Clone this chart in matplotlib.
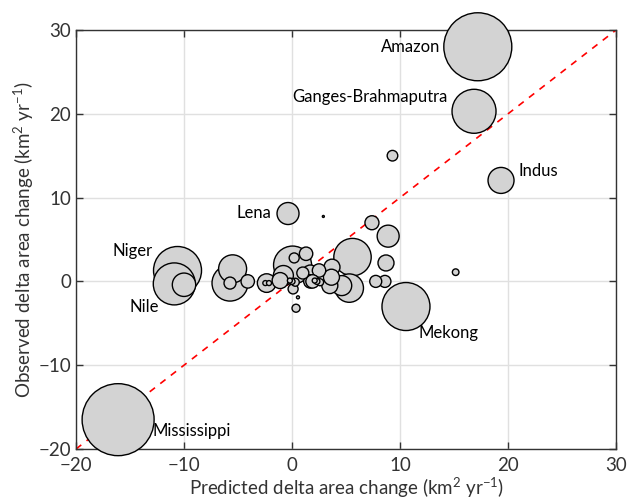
import numpy as np
import matplotlib
matplotlib.use("Agg")
from matplotlib import pyplot as plt

plt.rcParams['font.family'] = ['Lato', 'DejaVu Sans']
plt.rcParams['mathtext.fontset'] = 'custom'
plt.rcParams['mathtext.rm'] = 'Lato'
plt.rcParams['mathtext.it'] = 'Lato'

# predicted / observed delta area change (km2/yr) and bubble radius (pixels)
predicted = [17.2, 16.85, 19.35, -0.37, 2.9, 9.3, 7.4, 8.9, 8.7, 15.15,
             -10.6, -10.9, -10.0, -16.1, 10.55, 5.6, 5.3, 0.05,
             -5.74, -5.74, -5.5, -4.1, -2.35, -2.47, -2.13, -1.1,
             1.3, 0.2, -0.8, 2.5, 1.7, 1.0, 0.1, 0.37, 0.55, 1.7,
             0.0, -0.2, 0.3, 2.3, 2.1, 2.6, 3.65, 3.7, 3.5, 1.9,
             7.75, 8.6, 4.6]
observed = [28.0, 20.3, 12.05, 8.1, 7.75, 15.0, 7.0, 5.4, 2.2, 1.1,
            1.3, -0.3, -0.4, -16.5, -3.0, 2.9, -0.8, 1.95,
            -0.2, -0.2, 1.5, 0.0, -0.2, -0.2, -0.2, 0.1,
            3.3, 2.8, 0.7, 1.3, 1.0, 1.0, -0.9, -3.2, -1.9, 0.0,
            0.0, 0.1, -0.1, 0.0, 0.1, -0.1, 0.5, 1.7, -0.5, 0.0,
            0.0, 0.0, -0.5]
radius = [34, 22, 13, 11, 1, 5.3, 7, 11, 8, 3.3,
          24, 21, 11.7, 36, 24, 18.7, 14.2, 19,
          18, 6, 14, 6.7, 9.3, 2.5, 2.5, 8,
          6.7, 5, 10, 6.7, 8, 6, 5, 4, 1.5, 6.7,
          3, 2.5, 4, 3, 2.5, 3.5, 8, 8, 8, 6.7,
          6, 6, 10]

names = ['Amazon', 'Ganges-Brahmaputra', 'Indus', 'Lena', 'Niger', 'Nile',
         'Mekong', 'Mississippi']
name_x = [13.7, 0.0, 21.0, -1.95, -12.9, -15.0, 11.7, -12.9]
name_y = [28.0, 22.0, 13.2, 8.2, 3.6, -3.1, -6.2, -17.9]
name_ha = ['right', 'left', 'left', 'right', 'right', 'left', 'left', 'left']

fig = plt.figure(figsize=(6.28, 5.0), dpi=100)
ax = fig.add_axes([0.121, 0.102, 0.86, 0.838])

px = np.array(predicted)
ob = np.array(observed)
r = np.array(radius)
order = np.argsort(-r)
s = (2 * r * 0.72) ** 2
ax.scatter(px[order], ob[order], s=s[order], facecolor='#d3d3d3',
           edgecolor='black', linewidth=1.0, zorder=3, clip_on=False)

ax.plot([-20, 30], [-20, 30], color='red', linestyle=(0, (4, 4)),
        linewidth=1.2, zorder=2)

for n, x, y, ha in zip(names, name_x, name_y, name_ha):
    ax.text(x, y, n, ha=ha, va='center', fontsize=12, zorder=4)

ax.set_xlim(-20, 30)
ax.set_ylim(-20, 30)
ax.set_xticks([-20, -10, 0, 10, 20, 30])
ax.set_yticks([-20, -10, 0, 10, 20, 30])
ax.grid(True, color='#e0e0e0', linewidth=1.0, zorder=0)
ax.set_axisbelow(True)
ax.tick_params(direction='in', top=True, right=True, labelsize=13.5,
               length=5, width=1, color='#333333')
ax.tick_params(axis='x', pad=6)
for sp in ax.spines.values():
    sp.set_color('#333333')
    sp.set_linewidth(1.0)

ax.set_xlabel(r'Predicted delta area change (km$^2$ yr$^{-1}$)', fontsize=13.5,
              color='#333333', labelpad=1)
ax.set_ylabel(r'Observed delta area change (km$^2$ yr$^{-1}$)', fontsize=13.5,
              color='#333333', labelpad=2)
for lab in ax.get_xticklabels() + ax.get_yticklabels():
    lab.set_color('#333333')

fig.savefig('out.png', dpi=100)
